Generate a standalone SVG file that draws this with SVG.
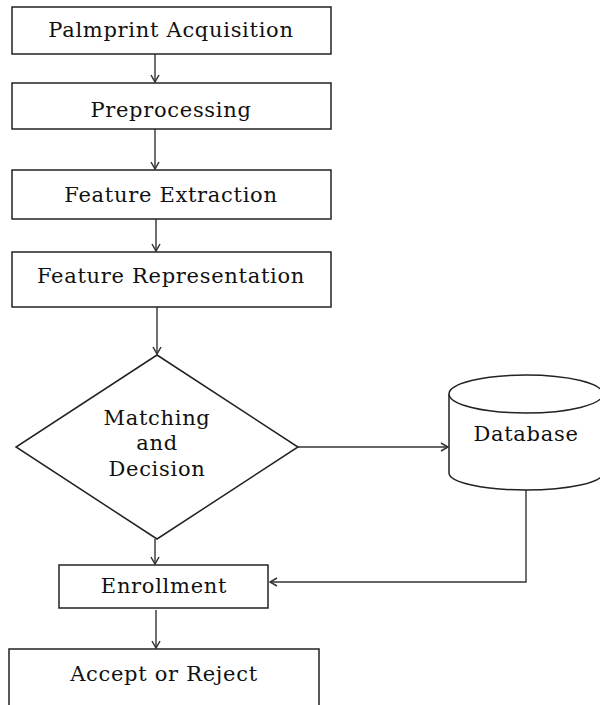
<svg xmlns="http://www.w3.org/2000/svg" width="600" height="705" viewBox="0 0 600 705">
<defs>
<style>
.box{fill:#fff;stroke:#222;stroke-width:1.5}
.lbl{font-family:"DejaVu Serif","Liberation Serif",serif;font-size:21px;letter-spacing:0.7px;fill:#111;text-anchor:middle}
.con{fill:none;stroke:#333;stroke-width:1.4}
</style>
<marker id="arr" viewBox="0 0 10 10" refX="9" refY="5" markerWidth="10" markerHeight="10" markerUnits="userSpaceOnUse" orient="auto">
<polyline points="2,1 9,5 2,9" fill="none" stroke="#333" stroke-width="1.5"/>
</marker>
</defs>
<rect width="600" height="705" fill="#fff"/>
<g id="connectors">
<line class="con" x1="155" y1="54" x2="155" y2="82" marker-end="url(#arr)"/>
<line class="con" x1="155" y1="129" x2="155" y2="169" marker-end="url(#arr)"/>
<line class="con" x1="156" y1="219" x2="156" y2="251" marker-end="url(#arr)"/>
<line class="con" x1="157" y1="307" x2="157" y2="354" marker-end="url(#arr)"/>
<line class="con" x1="298" y1="447" x2="448" y2="447" marker-end="url(#arr)"/>
<line class="con" x1="155" y1="539" x2="155" y2="564" marker-end="url(#arr)"/>
<line class="con" x1="156" y1="610" x2="156" y2="648" marker-end="url(#arr)"/>
<polyline class="con" points="526,490 526,582 270,582" marker-end="url(#arr)"/>
</g>
<g id="palmprint-acquisition">
<rect class="box" x="12" y="7" width="319" height="47"/>
<text class="lbl" x="171" y="37">Palmprint Acquisition</text>
</g>
<g id="preprocessing">
<rect class="box" x="12" y="83" width="319" height="46"/>
<text class="lbl" x="171" y="117">Preprocessing</text>
</g>
<g id="feature-extraction">
<rect class="box" x="12" y="170" width="319" height="49"/>
<text class="lbl" x="171" y="202">Feature Extraction</text>
</g>
<g id="feature-representation">
<rect class="box" x="12" y="252" width="319" height="55"/>
<text class="lbl" x="171" y="283">Feature Representation</text>
</g>
<g id="matching-decision">
<polygon class="box" points="157,355 298,447 157,539 16,447"/>
<text class="lbl" x="157" y="425">Matching</text>
<text class="lbl" x="157" y="450">and</text>
<text class="lbl" x="157" y="476">Decision</text>
</g>
<g id="database">
<path class="box" d="M449,394 L449,473 A77,17 0 0 0 603,473 L603,394"/>
<ellipse class="box" cx="526" cy="394" rx="77" ry="19"/>
<text class="lbl" x="526" y="441">Database</text>
</g>
<g id="enrollment">
<rect class="box" x="59" y="565" width="209" height="43"/>
<text class="lbl" x="164" y="593">Enrollment</text>
</g>
<g id="accept-reject">
<rect class="box" x="9" y="649" width="310" height="70"/>
<text class="lbl" x="164" y="681">Accept or Reject</text>
</g>
</svg>
